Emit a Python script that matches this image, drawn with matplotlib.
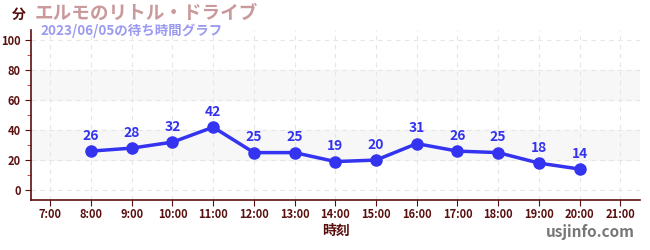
import matplotlib

matplotlib.use("Agg")
import matplotlib.pyplot as plt  # noqa: E402
from matplotlib.ticker import MultipleLocator  # noqa: E402

plt.rcParams["font.family"] = ["Noto Sans CJK JP", "DejaVu Sans"]

hours = [8, 9, 10, 11, 12, 13, 14, 15, 16, 17, 18, 19, 20]
waits = [26, 28, 32, 42, 25, 25, 19, 20, 31, 26, 25, 18, 14]
tick_hours = list(range(7, 22))
tick_labels = [f"{h}:00" for h in tick_hours]
title = "エルモのリトル・ドライブ"
subtitle = "2023/06/05の待ち時間グラフ"

DARK = "#5a0f0f"
BLUE = "#3333f0"

fig = plt.figure(figsize=(6.5, 2.5), dpi=100)
ax = fig.add_axes([0.048, 0.2, 0.937, 0.68])

# bandas cinzas de fundo
for lo, hi in [(20, 40), (60, 80)]:
    ax.axhspan(lo, hi, color="#f7f7f7", zorder=0)

ax.plot(hours, waits, color=BLUE, linewidth=2.5, marker="o", markersize=8, zorder=3)
for h, w in zip(hours, waits):
    ax.annotate(str(w), (h, w), xytext=(0, 6), textcoords="offset points",
                ha="center", va="bottom", color=BLUE, fontsize=10, fontweight="bold")

ax.set_xlim(6.53, 21.49)
ax.set_ylim(-6.7, 107)
ax.set_xticks(tick_hours)
ax.set_xticklabels(tick_labels)
ax.set_yticks(range(0, 101, 20))
ax.yaxis.set_minor_locator(MultipleLocator(10))
ax.tick_params(axis="both", colors=DARK, labelsize=8, length=4)
ax.tick_params(axis="y", which="minor", colors="#cc2222", length=3)
ax.tick_params(axis="x", pad=2)
for lbl in ax.get_xticklabels() + ax.get_yticklabels():
    lbl.set_fontweight("bold")

ax.grid(True, color="#e6e6e6", linestyle=(0, (4, 4)), linewidth=0.8)
ax.set_axisbelow(True)
for side in ["top", "right"]:
    ax.spines[side].set_visible(False)
for side in ["left", "bottom"]:
    ax.spines[side].set_color(DARK)
    ax.spines[side].set_linewidth(1.2)

ax.set_xlabel("時刻", color=DARK, fontsize=10, fontweight="bold", labelpad=2)

fig.text(0.029, 0.94, "分", color=DARK, fontsize=10, fontweight="bold", ha="center", va="center")
fig.text(0.053, 0.945, title, color="#c9999b", fontsize=13.4, fontweight="bold", va="center")
fig.text(0.063, 0.875, subtitle, color="#9a9af0", fontsize=9.7, fontweight="bold", va="center")
fig.text(0.977, 0.072, "usjinfo.com", color="#777777", fontsize=11, fontweight="bold",
         ha="right", va="center")

fig.savefig("out.png", dpi=100)
plt.close(fig)
